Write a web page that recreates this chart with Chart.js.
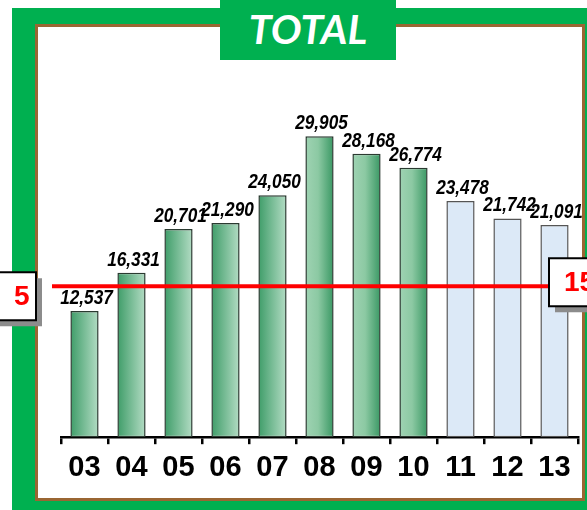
<!DOCTYPE html>
<html>
<head>
<meta charset="utf-8">
<script src="https://cdn.jsdelivr.net/npm/chart.js@4"></script>
<style>
  html, body { margin: 0; padding: 0; background: #fff; overflow: hidden; }
  #wrap { position: relative; width: 587px; height: 510px; }
  .frame { position: absolute; left: 12px; top: 8px; width: 600px; height: 520px; background: #00b050; }
  .inner { position: absolute; left: 35px; top: 24px; width: 544px; height: 471px; background: #fff; border: 3px solid #9a6633; }
  .title { position: absolute; left: 220px; top: 0; width: 176px; height: 60px; background: #00b050;
           color: #fff; font: italic bold 41px Lato, "Open Sans", sans-serif; text-align: center; line-height: 58px; }
  canvas { position: absolute; left: 0; top: 0; }
</style>
</head>
<body>
<div id="wrap">
  <div class="frame"></div>
  <div class="inner"></div>
  <div class="title">TOTAL</div>
  <canvas id="myChart" width="587" height="510"></canvas>
</div>
<script>
// chart data
var years = ['03', '04', '05', '06', '07', '08', '09', '10', '11', '12', '13'];
var totals = [12537, 16331, 20701, 21290, 24050, 29905, 28168, 26774, 23478, 21742, 21091];
var forecastFrom = '11';
var targetValue = 15000;
var targetLabel = '15';
var leftLabel = '5';

var firstForecast = years.indexOf(forecastFrom);

function barFill(ctx) {
    var i = ctx.dataIndex;
    if (i >= firstForecast) return '#dce9f7';
    var chart = ctx.chart;
    var x = chart.scales.x;
    if (!x || !chart.chartArea) return '#6fbb8f';
    var cx = x.getPixelForValue(i);
    var half = 14;
    var g = chart.ctx.createLinearGradient(cx - half, 0, cx + half, 0);
    if (i < 5) {
        g.addColorStop(0, '#3f9d69');
        g.addColorStop(1, '#b3dcc4');
    } else {
        g.addColorStop(0, '#9fd3b3');
        g.addColorStop(0.45, '#8cc9a3');
        g.addColorStop(1, '#3a9864');
    }
    return g;
}

// value labels + target line with boxes
var extras = {
    id: 'extras',
    afterDatasetsDraw: function(chart) {
        var c = chart.ctx;
        var y = chart.scales.y;
        var area = chart.chartArea;
        var meta = chart.getDatasetMeta(0);

        c.save();
        c.font = 'italic bold 20px "Liberation Sans", Arial, sans-serif';
        c.fillStyle = '#000';
        c.textAlign = 'center';
        c.textBaseline = 'alphabetic';
        meta.data.forEach(function(bar, i) {
            c.save();
            c.translate(bar.x + 2, bar.y - 7);
            c.scale(0.86, 1);  // squeeze to look like Calibri
            c.fillText(totals[i].toLocaleString('en-US'), 0, 0);
            c.restore();
        });

        var ly = y.getPixelForValue(targetValue);
        c.strokeStyle = '#ff0000';
        c.lineWidth = 4;
        c.beginPath();
        c.moveTo(area.left - 9, ly);
        c.lineTo(area.right - 20, ly);
        c.stroke();

        function box(x0, y0, w, h, text, tx) {
            c.fillStyle = '#8c8c8c';
            c.fillRect(x0 + 6, y0 + 6, w, h);
            c.fillStyle = '#fff';
            c.fillRect(x0, y0, w, h);
            c.strokeStyle = '#000';
            c.lineWidth = 2;
            c.strokeRect(x0, y0, w, h);
            c.fillStyle = '#ff0000';
            c.font = 'bold 28px "Liberation Sans", Arial, sans-serif';
            c.textBaseline = 'middle';
            c.textAlign = 'left';
            c.fillText(text, tx, y0 + h / 2 + 1);
        }
        box(-40, ly - 14, 76, 48, leftLabel, 14);
        box(549, ly - 28, 60, 48, targetLabel, 564);
        c.restore();
    }
};

function renderChart() {
    var ctx = document.getElementById('myChart').getContext('2d');
    new Chart(ctx, {
        type: 'bar',
        data: {
            labels: years,
            datasets: [{
                data: totals,
                backgroundColor: barFill,
                borderColor: function(ctx) { return ctx.dataIndex >= firstForecast ? '#555' : '#2a3a30'; },
                borderWidth: 1.5,
                borderSkipped: false,
                barPercentage: 0.6,
                categoryPercentage: 1
            }]
        },
        options: {
            responsive: false,
            animation: false,
            devicePixelRatio: 1,
            layout: { padding: { left: 61, right: 9, top: 85, bottom: 19 } },
            plugins: { legend: { display: false }, tooltip: { enabled: false } },
            scales: {
                y: { display: false, min: 0, max: 35000 },
                x: {
                    grid: { display: true, drawOnChartArea: false, offset: true, color: '#000', lineWidth: 2.5, tickLength: 7 },
                    border: { display: true, color: '#000', width: 2.5 },
                    ticks: { color: '#000', padding: 6, font: { family: '"Liberation Sans", Arial', size: 29, weight: 'bold' } }
                }
            }
        },
        plugins: [extras]
    });
}
window.onload = renderChart;
</script>
</body>
</html>
